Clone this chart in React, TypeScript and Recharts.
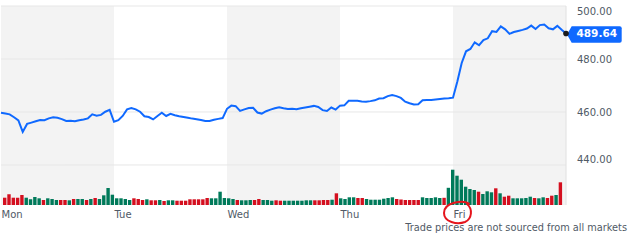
import React from 'react';
import { ComposedChart, Line, Bar, XAxis, YAxis, ReferenceArea, ReferenceLine, Cell } from 'recharts';

// ---- data ----
const dayLabels = ['Mon', 'Tue', 'Wed', 'Thu', 'Fri'];
const slotsPerDay = 26;
const priceTicks = [440, 460, 480, 500];
const priceDomain = [424.9, 500];
const volumeDomain = [0, 19.9];
const footerNote = 'Trade prices are not sourced from all markets';

// 15-minute prices (start of each slot), plus the latest price
const monPrice = [459.7, 459.4, 459.1, 458.0, 456.8, 452.5, 455.5, 456.0, 456.5, 457.0, 456.9, 457.6, 458.0, 457.8, 457.3, 456.6, 456.7, 456.5, 456.9, 457.2, 457.6, 459.1, 458.6, 458.9, 460.1, 460.8];
const tuePrice = [456.3, 456.9, 458.5, 461.0, 461.5, 461.0, 460.1, 458.4, 458.1, 457.2, 458.5, 459.7, 458.5, 459.3, 458.8, 458.4, 458.1, 457.8, 457.5, 457.3, 457.0, 456.6, 456.6, 457.1, 457.4, 457.7];
const wedPrice = [461.2, 462.4, 462.2, 460.4, 461.0, 461.5, 461.6, 459.8, 459.4, 460.3, 460.9, 461.4, 461.8, 461.4, 461.1, 461.2, 461.0, 461.4, 461.7, 462.0, 462.3, 461.9, 460.7, 460.4, 461.7, 460.9];
const thuPrice = [462.4, 462.5, 464.2, 464.2, 464.2, 464.0, 463.9, 464.1, 464.4, 465.1, 465.2, 466.0, 466.4, 466.0, 465.3, 463.9, 463.3, 462.8, 462.9, 464.4, 464.5, 464.5, 464.7, 464.9, 465.1, 465.2];
const friPrice = [465.4, 471.5, 478.5, 482.9, 483.8, 486.3, 485.2, 487.1, 487.8, 490.5, 490.2, 492.3, 491.2, 489.5, 490.2, 490.6, 491.0, 491.5, 492.6, 491.3, 492.8, 493.0, 491.6, 491.2, 492.5, 491.0];
const lastPrice = 489.64;

// volume per 15-minute slot (millions) and direction (u = up, d = down)
const monVol = [0.73, 1.07, 0.73, 0.73, 1.0, 0.73, 0.57, 0.8, 0.67, 0.5, 0.67, 0.6, 0.5, 0.5, 0.5, 0.47, 0.6, 0.6, 0.6, 0.5, 0.6, 0.7, 0.6, 0.97, 1.7, 1.03];
const tueVol = [0.67, 0.67, 0.6, 0.5, 0.67, 0.6, 0.5, 0.57, 0.47, 0.47, 0.5, 0.4, 0.47, 0.47, 0.43, 0.43, 0.43, 0.57, 0.57, 0.57, 0.57, 0.7, 0.67, 0.67, 1.33, 0.7];
const wedVol = [0.67, 0.6, 0.5, 0.47, 0.47, 0.5, 0.5, 0.6, 0.5, 0.5, 0.43, 0.47, 0.43, 0.43, 0.43, 0.43, 0.43, 0.43, 0.47, 0.47, 0.47, 0.47, 0.5, 0.5, 0.53, 1.17];
const thuVol = [0.67, 0.6, 0.77, 0.77, 0.7, 0.7, 0.6, 0.53, 0.53, 0.53, 0.63, 0.7, 0.77, 0.6, 0.55, 0.5, 0.5, 0.5, 0.5, 0.77, 0.7, 0.7, 0.77, 0.7, 0.72, 1.72];
const friVol = [3.53, 2.93, 2.53, 1.83, 1.6, 1.5, 1.33, 1.1, 1.37, 1.27, 1.67, 1.17, 0.83, 0.93, 0.67, 0.67, 0.67, 0.7, 0.83, 0.7, 0.67, 0.77, 0.7, 0.93, 1.0, 2.27];

const monDir = ['d','d','d','d','d','u','u','u','u','d','u','u','u','d','d','u','d','u','u','d','u','d','u','u','u','u'];
const tueDir = ['u','u','u','u','d','d','d','u','d','d','u','d','u','u','d','d','d','d','d','d','d','d','u','u','u','u'];
const wedDir = ['u','u','d','u','u','u','d','d','u','u','u','d','d','u','u','u','u','u','u','u','d','d','d','d','u','d'];
const thuDir = ['u','u','u','u','d','d','u','u','u','u','u','u','u','d','d','d','d','d','d','u','u','u','u','u','d','u'];
const friDir = ['u','u','u','u','u','u','d','u','u','u','d','u','d','d','u','u','u','u','u','d','u','u','d','d','u','d'];

// ---- derived tables ----
const allPrices = [...monPrice, ...tuePrice, ...wedPrice, ...thuPrice, ...friPrice, lastPrice];
const lineData = allPrices.map((price, t) => ({ t, price }));
const allVol = [...monVol, ...tueVol, ...wedVol, ...thuVol, ...friVol];
const allDir = [...monDir, ...tueDir, ...wedDir, ...thuDir, ...friDir];
const barData = allVol.map((vol, i) => ({ i, vol, dir: allDir[i] }));
const dayTicks = dayLabels.map((_, d) => d * slotsPerDay);
const totalSlots = dayLabels.length * slotsPerDay;

// ---- styles ----
const FONT = "'DejaVu Sans', sans-serif";
const TEXT = '#505a66';
const BLUE = '#0f69ff';
const GREEN = '#007a5a';
const RED = '#d40f1f';
const BAND = '#f3f3f3';
const GRID = '#e7e7e7';

const DayTick = (props: any) => {
  const { x, y, payload } = props;
  const label = dayLabels[Math.round(payload.value / slotsPerDay)];
  return (
    <g>
      <text x={x + 0.5} y={y + 13} fill={TEXT} fontSize={10} fontFamily={FONT} textAnchor="start">
        {label}
      </text>
      {label === 'Fri' && (
        <path
          d={`M ${x + 16} ${y - 1.5} C ${x + 10} ${y - 5}, ${x - 9} ${y - 3}, ${x - 9} ${y + 8} C ${x - 9} ${y + 17}, ${x + 4} ${y + 20}, ${x + 12} ${y + 17} C ${x + 19} ${y + 14}, ${x + 20} ${y + 4}, ${x + 14} ${y - 1}`}
          fill="none"
          stroke="#e5141c"
          strokeWidth={2}
          strokeLinecap="round"
        />
      )}
    </g>
  );
};

const PriceTick = (props: any) => {
  const { x, y, payload } = props;
  const v = payload.value as number;
  const shift = v === priceTicks[priceTicks.length - 1] ? 5 : v === priceTicks[0] ? -5.5 : 0;
  return (
    <text x={x} y={y + shift + 3.6} fill={TEXT} fontSize={10} fontFamily={FONT} textAnchor="start">
      {v.toFixed(2)}
    </text>
  );
};

const renderDot = (props: any) => {
  const { cx, cy, index } = props;
  if (index !== lineData.length - 1) return <g key={`d${index}`} />;
  const top = cy - 7.3;
  const bot = cy + 9.4;
  const left = cx + 5.7;
  const right = cx + 55.7;
  const r = 2;
  const d = `M ${left} ${top} L ${right - r} ${top} Q ${right} ${top} ${right} ${top + r} L ${right} ${bot - r} Q ${right} ${bot} ${right - r} ${bot} L ${left} ${bot} L ${cx + 1} ${(top + bot) / 2} Z`;
  return (
    <g key="last">
      <path d={d} fill={BLUE} />
      <text x={cx + 10.5} y={cy + 4} fill="#ffffff" fontSize={10.5} fontWeight="bold" fontFamily={FONT}>
        {lastPrice.toFixed(2)}
      </text>
      <circle cx={cx} cy={cy} r={2.8} fill="#1c1c1c" />
    </g>
  );
};

export default function App() {
  return (
    <div style={{ position: 'relative', width: 637, height: 243, background: '#fff' }}>
      <style>{'body{margin:0;background:#fff}'}</style>
      <ComposedChart width={637} height={243} data={barData} margin={{ top: 6, right: 0, bottom: 0, left: 1 }}>
        <XAxis
          xAxisId="t"
          type="number"
          dataKey="t"
          domain={[0, totalSlots]}
          ticks={dayTicks}
          interval={0}
          axisLine={false}
          tickLine={false}
          tickSize={0}
          tickMargin={0}
          height={38}
          tick={<DayTick />}
        />
        <XAxis xAxisId="v" dataKey="i" type="category" hide padding={{ left: 2, right: 3 }} />
        <YAxis
          yAxisId="p"
          orientation="right"
          width={71}
          type="number"
          domain={priceDomain}
          ticks={priceTicks}
          interval={0}
          axisLine={{ stroke: '#e0e0e0' }}
          tickLine={false}
          tickSize={0}
          tickMargin={11}
          tick={<PriceTick />}
        />
        <YAxis yAxisId="vol" hide type="number" domain={volumeDomain} />
        {dayLabels.map((_, d) =>
          d % 2 === 0 ? (
            <ReferenceArea
              key={`band${d}`}
              xAxisId="t"
              yAxisId="p"
              x1={d * slotsPerDay}
              x2={(d + 1) * slotsPerDay}
              fill={BAND}
              fillOpacity={1}
              stroke="none"
            />
          ) : null
        )}
        {priceTicks.map((v) => (
          <ReferenceLine key={`g${v}`} xAxisId="t" yAxisId="p" y={v} stroke={GRID} strokeWidth={1} />
        ))}
        <Bar xAxisId="v" yAxisId="vol" dataKey="vol" barSize={3.4} isAnimationActive={false}>
          {barData.map((b) => (
            <Cell key={`c${b.i}`} fill={b.dir === 'u' ? GREEN : RED} />
          ))}
        </Bar>
        <Line
          xAxisId="t"
          yAxisId="p"
          data={lineData}
          dataKey="price"
          type="linear"
          stroke={BLUE}
          strokeWidth={2}
          dot={renderDot}
          activeDot={false}
          isAnimationActive={false}
        />
      </ComposedChart>
      <svg width={637} height={243} style={{ position: 'absolute', left: 0, top: 0, pointerEvents: 'none' }}>
        <text x={627} y={230.7} fill={TEXT} fontSize={9.75} fontFamily={FONT} textAnchor="end">
          {footerNote}
        </text>
      </svg>
    </div>
  );
}
